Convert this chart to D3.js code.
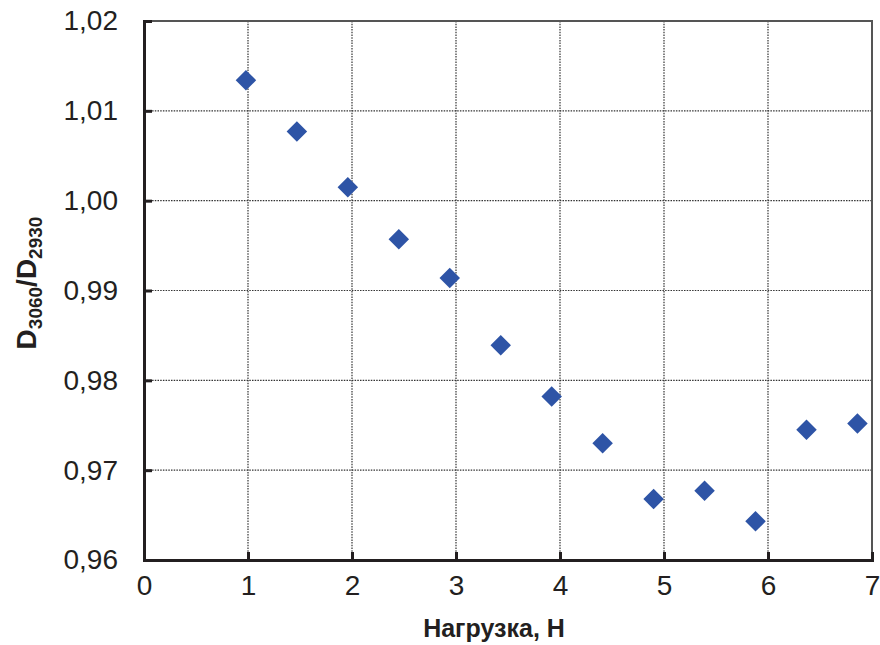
<!DOCTYPE html>
<html>
<head>
<meta charset="utf-8">
<script src="https://cdn.jsdelivr.net/npm/d3@7"></script>
<style>
  body { margin: 0; background: #fff; }
  text { font-family: "Liberation Sans", Arial, sans-serif; fill: #231f20; }
</style>
</head>
<body>
<div id="chart"></div>
<script>
// Load (N) and the D3060/D2930 ratio
let loads = [0.98, 1.47, 1.96, 2.45, 2.94, 3.43, 3.92, 4.41, 4.90, 5.39, 5.88, 6.37, 6.86];
let ratios = [1.0134, 1.0077, 1.0015, 0.9957, 0.9914, 0.9839, 0.9782, 0.9730, 0.9668, 0.9677, 0.9643, 0.9745, 0.9752];
let xTicks = [0, 1, 2, 3, 4, 5, 6, 7];
let yTicks = [0.96, 0.97, 0.98, 0.99, 1.00, 1.01, 1.02];

// Chart size
let margin = { top: 21, right: 8, bottom: 85, left: 144 },
    width = 880 - margin.left - margin.right,
    height = 645 - margin.top - margin.bottom;

let x = d3.scaleLinear().domain([0, 7]).range([0, width]);
let y = d3.scaleLinear().domain([0.96, 1.02]).range([height, 0]);

let svg = d3.select("#chart").append("svg")
    .attr("width", 880)
    .attr("height", 645);

let g = svg.append("g")
    .attr("transform", `translate(${margin.left}, ${margin.top})`);

// Dotted grid
g.append("g").selectAll("line.vg")
    .data(xTicks.slice(1, -1))
    .enter().append("line")
    .attr("x1", d => x(d)).attr("x2", d => x(d))
    .attr("y1", 0).attr("y2", height)
    .attr("stroke", "#333").attr("stroke-width", 1.2)
    .attr("stroke-dasharray", "1.5,1.2");

g.append("g").selectAll("line.hg")
    .data(yTicks.slice(1, -1))
    .enter().append("line")
    .attr("x1", 0).attr("x2", width)
    .attr("y1", d => y(d)).attr("y2", d => y(d))
    .attr("stroke", "#333").attr("stroke-width", 1.2)
    .attr("stroke-dasharray", "1.5,1.2");

// Top and right frame
g.append("path")
    .attr("d", `M0,0H${width}V${height}`)
    .attr("fill", "none")
    .attr("stroke", "#555")
    .attr("stroke-width", 2);

// Axes with inner ticks
let commaFmt = d => d3.format(".2f")(d).replace(".", ",");

let xaxis = g.append("g")
    .attr("transform", `translate(0, ${height})`)
    .call(d3.axisBottom(x).tickValues(xTicks).tickSize(-8).tickPadding(26).tickFormat(d3.format("d")));

let yaxis = g.append("g")
    .call(d3.axisLeft(y).tickValues(yTicks).tickSize(-8).tickPadding(26).tickFormat(commaFmt));

[xaxis, yaxis].forEach(a => {
    a.select(".domain").attr("stroke", "#231f20").attr("stroke-width", 3);
    a.selectAll(".tick line").attr("stroke", "#231f20").attr("stroke-width", 3);
    a.selectAll(".tick text")
        .attr("font-size", 28)
        .attr("font-family", "'Liberation Sans', Arial, sans-serif")
        .attr("fill", "#231f20");
});
xaxis.selectAll(".tick text").attr("dy", "0.71em").attr("y", 15);

// Points
g.append("g").selectAll("path.pt")
    .data(loads.map((l, i) => ({ load: l, ratio: ratios[i] })))
    .enter().append("path")
    .attr("d", d3.symbol().type(d3.symbolSquare).size(210))
    .attr("transform", d => `translate(${x(d.load)}, ${y(d.ratio)}) rotate(45)`)
    .attr("fill", "#2e54a6");

// Axis titles
svg.append("text")
    .attr("x", 494)
    .attr("y", 637)
    .attr("text-anchor", "middle")
    .attr("font-size", 25)
    .attr("font-weight", "bold")
    .text("Нагрузка, Н");

let ytitle = svg.append("text")
    .attr("transform", "translate(36, 283) rotate(-90)")
    .attr("text-anchor", "middle")
    .attr("font-size", 28)
    .attr("font-weight", "bold");
ytitle.append("tspan").text("D");
ytitle.append("tspan").attr("font-size", 19).attr("dy", 6).text("3060");
ytitle.append("tspan").attr("dy", -6).text("/D");
ytitle.append("tspan").attr("font-size", 19).attr("dy", 6).text("2930");
</script>
</body>
</html>
